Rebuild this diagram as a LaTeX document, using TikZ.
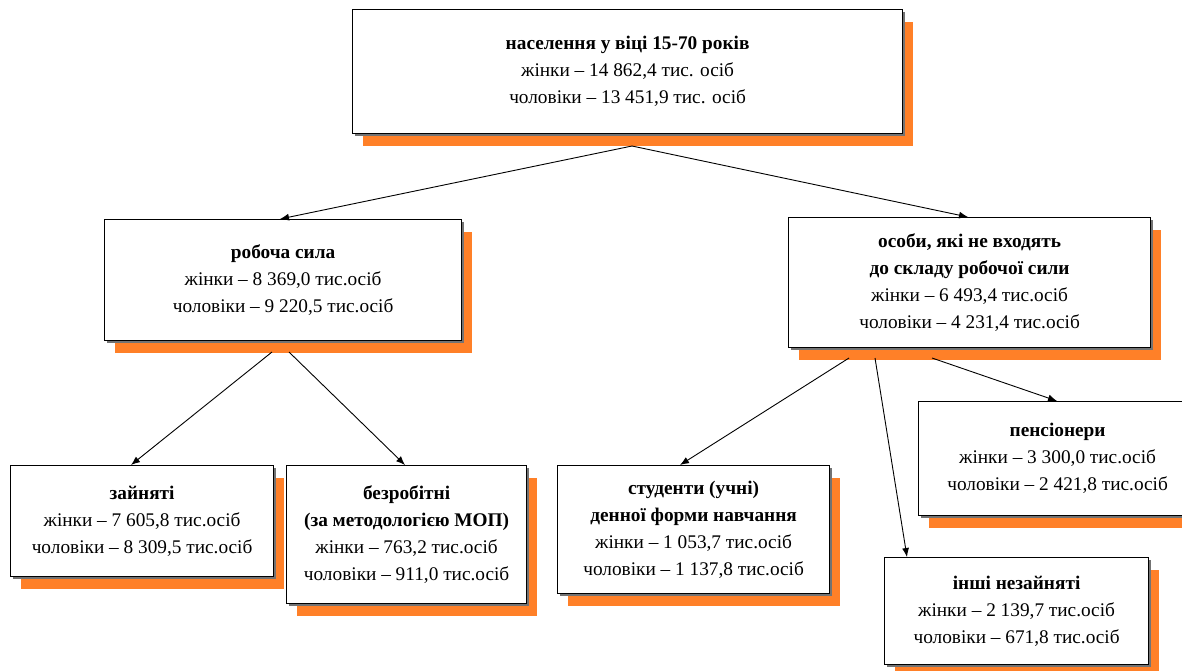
\documentclass[tikz,border=0pt]{standalone}
\usepackage{fontspec}
\setmainfont{Liberation Serif}
\usetikzlibrary{shadows,arrows.meta}
\definecolor{shadoworange}{RGB}{255,128,40}
\tikzset{
  box/.style={draw=black, line width=1.2pt, fill=white, anchor=north west,
    align=center, inner sep=0pt,
    font=\fontsize{19.3}{27}\selectfont,
    drop shadow={shadow xshift=10pt, shadow yshift=-12pt, fill=shadoworange, opacity=1},
    drop shadow={shadow xshift=2pt, shadow yshift=-2pt, fill=black!55, opacity=1}},
  link/.style={draw=black, line width=0.9pt, -{Latex[length=9pt,width=7pt]}}
}
\begin{document}
\begin{tikzpicture}[x=1pt,y=-1pt]
\useasboundingbox (0,0) rectangle (1182,670);
\node[box, minimum width=550pt, minimum height=124pt] (top) at (352,9)
  {\textbf{населення у віці 15-70 років}\\жінки -- 14 862,4 тис. осіб\\чоловіки -- 13 451,9 тис. осіб};
\node[box, minimum width=357pt, minimum height=121pt] (rs) at (104,219)
  {\textbf{робоча сила}\\жінки -- 8 369,0 тис.осіб\\чоловіки -- 9 220,5 тис.осіб};
\node[box, minimum width=362pt, minimum height=130pt] (nrs) at (788,217)
  {\textbf{особи, які не входять}\\\textbf{до складу робочої сили}\\жінки -- 6 493,4 тис.осіб\\чоловіки -- 4 231,4 тис.осіб};
\node[box, minimum width=263pt, minimum height=111pt] (zayn) at (10,465)
  {\textbf{зайняті}\\жінки -- 7 605,8 тис.осіб\\чоловіки -- 8 309,5 тис.осіб};
\node[box, minimum width=240pt, minimum height=138pt] (bez) at (286,465)
  {\textbf{безробітні}\\\textbf{(за методологією МОП)}\\жінки -- 763,2 тис.осіб\\чоловіки -- 911,0 тис.осіб};
\node[box, minimum width=272pt, minimum height=128pt] (stud) at (557,465)
  {\textbf{студенти (учні)}\\\textbf{денної форми навчання}\\жінки -- 1 053,7 тис.осіб\\чоловіки -- 1 137,8 тис.осіб};
\node[box, minimum width=278pt, minimum height=114pt] (pens) at (918,401)
  {\textbf{пенсіонери}\\жінки -- 3 300,0 тис.осіб\\чоловіки -- 2 421,8 тис.осіб};
\node[box, minimum width=264pt, minimum height=107pt] (insh) at (884,557)
  {\textbf{інші незайняті}\\жінки -- 2 139,7 тис.осіб\\чоловіки -- 671,8 тис.осіб};
\coordinate (t0) at (632,146);
\coordinate (r1) at (272,352);
\coordinate (r2) at (289,352);
\coordinate (n1) at (849,358);
\coordinate (n2) at (875,358);
\coordinate (n3) at (932,358);
\draw[link] (t0) -- (rs.north -| 280,0);
\draw[link] (t0) -- (nrs.north -| 968,0);
\draw[link] (r1) -- (zayn.north -| 131,0);
\draw[link] (r2) -- (bez.north -| 405,0);
\draw[link] (n1) -- (stud.north -| 680,0);
\draw[link] (n2) -- (insh.north -| 907,0);
\draw[link] (n3) -- (pens.north -| 1057,0);
\end{tikzpicture}
\end{document}
